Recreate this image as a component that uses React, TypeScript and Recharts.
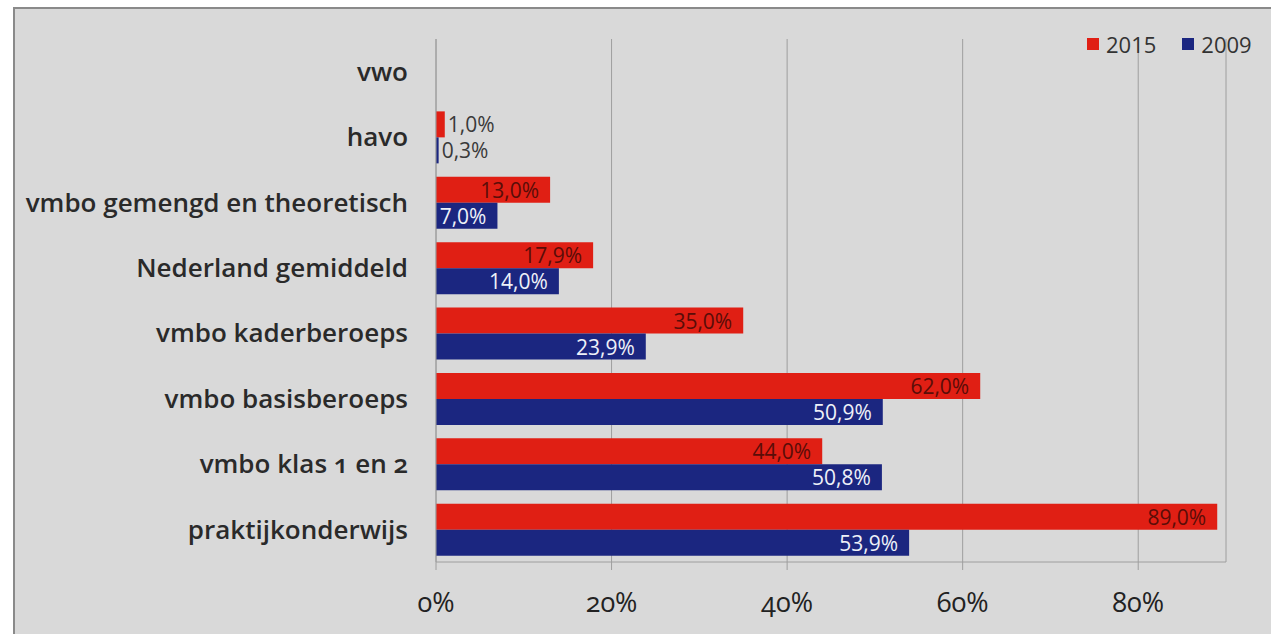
import { Bar, BarChart, CartesianGrid, LabelList, XAxis, YAxis } from 'recharts';

const categories = [
  'vwo',
  'havo',
  'vmbo gemengd en theoretisch',
  'Nederland gemiddeld',
  'vmbo kaderberoeps',
  'vmbo basisberoeps',
  'vmbo klas 1 en 2',
  'praktijkonderwijs',
];
const values2015 = [0, 1.0, 13.0, 17.9, 35.0, 62.0, 44.0, 89.0];
const values2009 = [0, 0.3, 7.0, 14.0, 23.9, 50.9, 50.8, 53.9];
const xTicks = [0, 20, 40, 60, 80];

const RED = '#e01f14';
const BLUE = '#1b2680';
const FONT = '"Open Sans", sans-serif';

const data = categories.map((name, i) => ({ name, y2015: values2015[i], y2009: values2009[i] }));

const fmt = (v: number) => v.toFixed(1).replace('.', ',') + '%';

const makeLabel = (fill: string) => (props: any) => {
  const { x, y, width, height, value } = props;
  if (!value) return null;
  const small = width < 30;
  return (
    <text
      x={small ? x + width + 3 : x + width - 11}
      y={y + height / 2}
      textAnchor={small ? 'start' : 'end'}
      dominantBaseline="central"
      fill={small ? '#3a3a3a' : fill}
      fontSize={21}
      fontFamily={FONT}
      style={{ fontVariantNumeric: 'lining-nums' }}
    >
      {fmt(value)}
    </text>
  );
};

const legendItems = [
  { label: '2015', color: RED },
  { label: '2009', color: BLUE },
];

export default function App() {
  return (
    <div style={{ position: 'absolute', left: 0, top: 0, width: 1271, height: 634, background: '#fff', fontFamily: FONT, fontVariantNumeric: 'oldstyle-nums' }}>
      <div style={{ position: 'absolute', left: 13, top: 7, right: 0, bottom: 0, background: '#d9d9d9', borderLeft: '2px solid #8a8a8a', borderTop: '2px solid #8a8a8a' }} />
      <div style={{ position: 'absolute', left: 0, top: 0 }}>
        <BarChart
          width={1271}
          height={634}
          data={data}
          layout="vertical"
          margin={{ top: 39, right: 45, bottom: 0, left: 0 }}
          barSize={26}
          barGap={0}
        >
          <CartesianGrid horizontal={false} stroke="#9e9e9e" strokeWidth={1} />
          <XAxis
            type="number"
            domain={[0, 90]}
            ticks={xTicks}
            height={72}
            tickFormatter={(v) => v + '%'}
            tick={{ fill: '#222', fontSize: 27, fontFamily: FONT }}
            tickSize={8}
            tickMargin={23}
            stroke="#9e9e9e"
          />
          <YAxis
            type="category"
            dataKey="name"
            width={436}
            tickLine={false}
            tickSize={0}
            tickMargin={28}
            tick={{ fill: '#2a2a2a', fontSize: 26, fontWeight: 600, fontFamily: FONT }}
            stroke="#9e9e9e"
            interval={0}
          />
          <Bar dataKey="y2015" name="2015" fill={RED} isAnimationActive={false}>
            <LabelList dataKey="y2015" content={makeLabel('#5a0d08')} />
          </Bar>
          <Bar dataKey="y2009" name="2009" fill={BLUE} isAnimationActive={false}>
            <LabelList dataKey="y2009" content={makeLabel('#eef1f8')} />
          </Bar>
        </BarChart>
      </div>
      <div style={{ position: 'absolute', top: 29, left: 1087, display: 'flex', alignItems: 'center', fontSize: 22, color: '#333', fontVariantNumeric: 'lining-nums' }}>
        {legendItems.map((it) => (
          <div key={it.label} style={{ display: 'flex', alignItems: 'center', marginRight: 26 }}>
            <span style={{ display: 'inline-block', width: 12, height: 12, background: it.color, marginRight: 7 }} />
            <span>{it.label}</span>
          </div>
        ))}
      </div>
    </div>
  );
}
